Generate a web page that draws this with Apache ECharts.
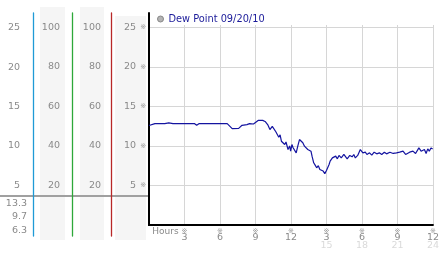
<!DOCTYPE html>
<html><head><meta charset="utf-8">
<script src="https://cdn.jsdelivr.net/npm/echarts@6/dist/echarts.min.js"></script>
<style>html,body{margin:0;padding:0;background:#fff}#c{width:442px;height:253px}</style>
</head><body><div id="c"></div>
<script>
const seriesName = 'Dew Point 09/20/10';
const hours = [0.00,0.08,0.50,1.33,1.67,1.83,2.03,3.00,3.83,4.03,4.25,5.22,5.36,5.50,6.61,7.03,7.58,7.86,8.28,8.50,8.64,8.83,8.97,9.25,9.61,9.81,10.03,10.22,10.42,10.55,10.72,10.83,10.97,11.08,11.19,11.33,11.47,11.58,11.75,11.89,11.97,12.08,12.17,12.31,12.44,12.58,12.72,12.81,13.00,13.14,13.28,13.42,13.56,13.69,13.78,13.92,14.03,14.17,14.31,14.44,14.58,14.72,14.86,15.00,15.10,15.22,15.31,15.42,15.50,15.65,15.78,15.92,16.06,16.25,16.47,16.75,16.97,17.17,17.31,17.44,17.64,17.86,18.08,18.28,18.42,18.64,18.83,19.03,19.25,19.47,19.67,19.89,20.08,20.36,20.64,20.92,21.19,21.47,21.69,21.81,22.03,22.31,22.53,22.81,23.00,23.14,23.28,23.42,23.56,23.69,23.83,23.97];
const dewPoint = [12.58,12.58,12.83,12.83,12.91,13.03,12.83,12.83,12.83,12.61,12.83,12.83,12.91,12.83,12.83,12.19,12.23,12.61,12.70,12.83,13.03,12.78,12.65,13.24,13.24,13.10,12.70,12.07,12.48,12.70,11.80,11.90,11.10,11.40,10.60,10.80,10.18,10.50,9.55,10.00,9.34,10.18,9.80,10.05,9.13,10.00,10.81,10.89,10.40,9.97,10.10,9.55,9.30,9.34,8.71,7.87,7.60,7.24,7.50,7.03,7.20,6.82,6.50,6.90,6.70,7.66,8.08,7.95,8.49,8.30,8.71,8.37,8.80,8.49,8.92,8.37,8.80,8.63,8.92,8.49,8.80,9.55,9.13,9.21,8.92,9.13,8.84,9.21,9.00,9.13,8.92,9.21,9.00,9.21,9.05,9.13,9.21,9.34,8.92,8.80,9.21,9.34,9.05,9.75,9.34,9.13,9.55,9.05,9.63,9.34,9.75,9.63];
const yTicks = [5,10,15,20,25];
const pctTicks = [20,40,60,80,100];
const xTicks = [0,3,6,9,12,15,18,21,24];
const xTickLabels = ['Hours','3','6','9','12','3','6','9','12'];
const xTickLabels24 = ['','','','','','15','18','21','24'];
const smallScale = ['13.3','9.7','6.3'];

const FONT = 'DejaVu Sans';
const GRAY = '#8a8a8a';
const chart = echarts.init(document.getElementById('c'), null, {renderer:'canvas'});

function hiddenX(gi){ return {type:'value', gridIndex:gi, min:0, max:24, show:false}; }
function sideAxis(offset, min, max, ticks, margin, color){
  return {type:'value', gridIndex:2, position:'left', offset:offset, min:min, max:max,
    axisLine:{show:true, onZero:false, lineStyle:{color:color, width:1.3, opacity:1}},
    axisTick:{show:false, customValues:ticks}, splitLine:{show:false},
    axisLabel:{customValues:ticks, margin:margin, color:GRAY, fontSize:9.5, fontFamily:FONT}};
}

const option = {
  animation:false,
  backgroundColor:'#fff',
  textStyle:{fontFamily:FONT},
  legend:{
    left:157, top:14, padding:0, itemWidth:6, itemHeight:6, itemGap:5,
    data:[{name:seriesName, icon:'circle', itemStyle:{color:'#b4b4b4', borderColor:'#888', borderWidth:1}}],
    textStyle:{color:'#1a1a99', fontSize:9.8, fontFamily:FONT}
  },
  grid:[
    {left:149, right:4, top:25, bottom:28},
    {left:149, right:4, top:13, bottom:28},
    {left:149, right:4, top:13, bottom:17},
    {left:33, width:1, top:197, height:40}
  ],
  xAxis:[
    {type:'value', gridIndex:0, min:0, max:24, interval:3,
     axisLine:{show:true, onZero:false, lineStyle:{color:'#000', width:2}},
     axisTick:{show:false},
     splitLine:{show:true, lineStyle:{color:'#d6d6d6', width:1}},
     axisLabel:{
       margin:3, showMinLabel:true, showMaxLabel:true,
       formatter:function(v){
         const i = xTicks.indexOf(v);
         if (i < 0) return '';
         if (i === 0) return '{hr|' + xTickLabels[0] + '}';
         let s = '{ic|※}\n{n|' + xTickLabels[i] + '}';
         if (xTickLabels24[i]) s += '\n{s|' + xTickLabels24[i] + '}';
         return s;
       },
       rich:{
         hr:{fontSize:9, lineHeight:8, color:GRAY, fontFamily:FONT, padding:[0,0,0,33]},
         ic:{fontSize:7, lineHeight:6, color:'#999', fontFamily:FONT},
         n:{fontSize:9.5, lineHeight:8, color:GRAY, fontFamily:FONT},
         s:{fontSize:9.5, lineHeight:8, color:'#dadada', fontFamily:FONT}
       }
     }},
    hiddenX(1), hiddenX(2),
    {type:'value', gridIndex:3, show:false}
  ],
  yAxis:[
    {type:'value', gridIndex:0, min:0, max:25.3,
     axisLine:{show:true, onZero:false, lineStyle:{color:'#000', width:2}},
     axisTick:{show:false, customValues:[0].concat(yTicks)},
     splitLine:{show:true, lineStyle:{color:'#d6d6d6', width:1}},
     axisLabel:{customValues:yTicks, margin:3, align:'right',
       formatter:function(v){ return '{n|' + v + '}{ic|※}'; },
       rich:{n:{fontSize:9.5, color:GRAY, fontFamily:FONT}, ic:{fontSize:7, color:'#999', fontFamily:FONT, padding:[0,0,0,4]}}}},
    {type:'value', gridIndex:1, min:0, max:1,
     axisLine:{show:true, onZero:false, lineStyle:{color:'#000', width:2}},
     axisTick:{show:false}, axisLabel:{show:false}, splitLine:{show:false}},
    sideAxis(116, -1.39, 26.84, yTicks, 13, '#1f9ad6'),
    sideAxis(77, -5.57, 107.34, pctTicks, 12, '#2ea83a'),
    sideAxis(38, -5.57, 107.34, pctTicks, 10, '#b82828'),
    {type:'category', gridIndex:3, data:smallScale, inverse:true,
     axisLine:{show:false}, axisTick:{show:false}, splitLine:{show:false},
     axisLabel:{margin:6, color:GRAY, fontSize:9.5, fontFamily:FONT}}
  ],
  graphic:[
    {type:'rect', z:-1, shape:{x:40, y:7, width:25, height:233}, style:{fill:'#f5f5f5'}},
    {type:'rect', z:-1, shape:{x:80, y:7, width:24, height:233}, style:{fill:'#f5f5f5'}},
    {type:'rect', z:-1, shape:{x:115, y:16, width:31, height:224}, style:{fill:'#f5f5f5'}},
    {type:'line', z:-1, shape:{x1:0, y1:196, x2:148, y2:196}, style:{stroke:'#a0a0a0', lineWidth:2}}
  ],
  series:[
    {name:seriesName, type:'line', xAxisIndex:0, yAxisIndex:0, showSymbol:false, symbol:'none',
     lineStyle:{color:'#1414a0', width:1.2}, itemStyle:{color:'#1414a0'},
     data:hours.map((h,i)=>[h, dewPoint[i]])}
  ]
};
chart.setOption(option);
</script>
</body></html>
